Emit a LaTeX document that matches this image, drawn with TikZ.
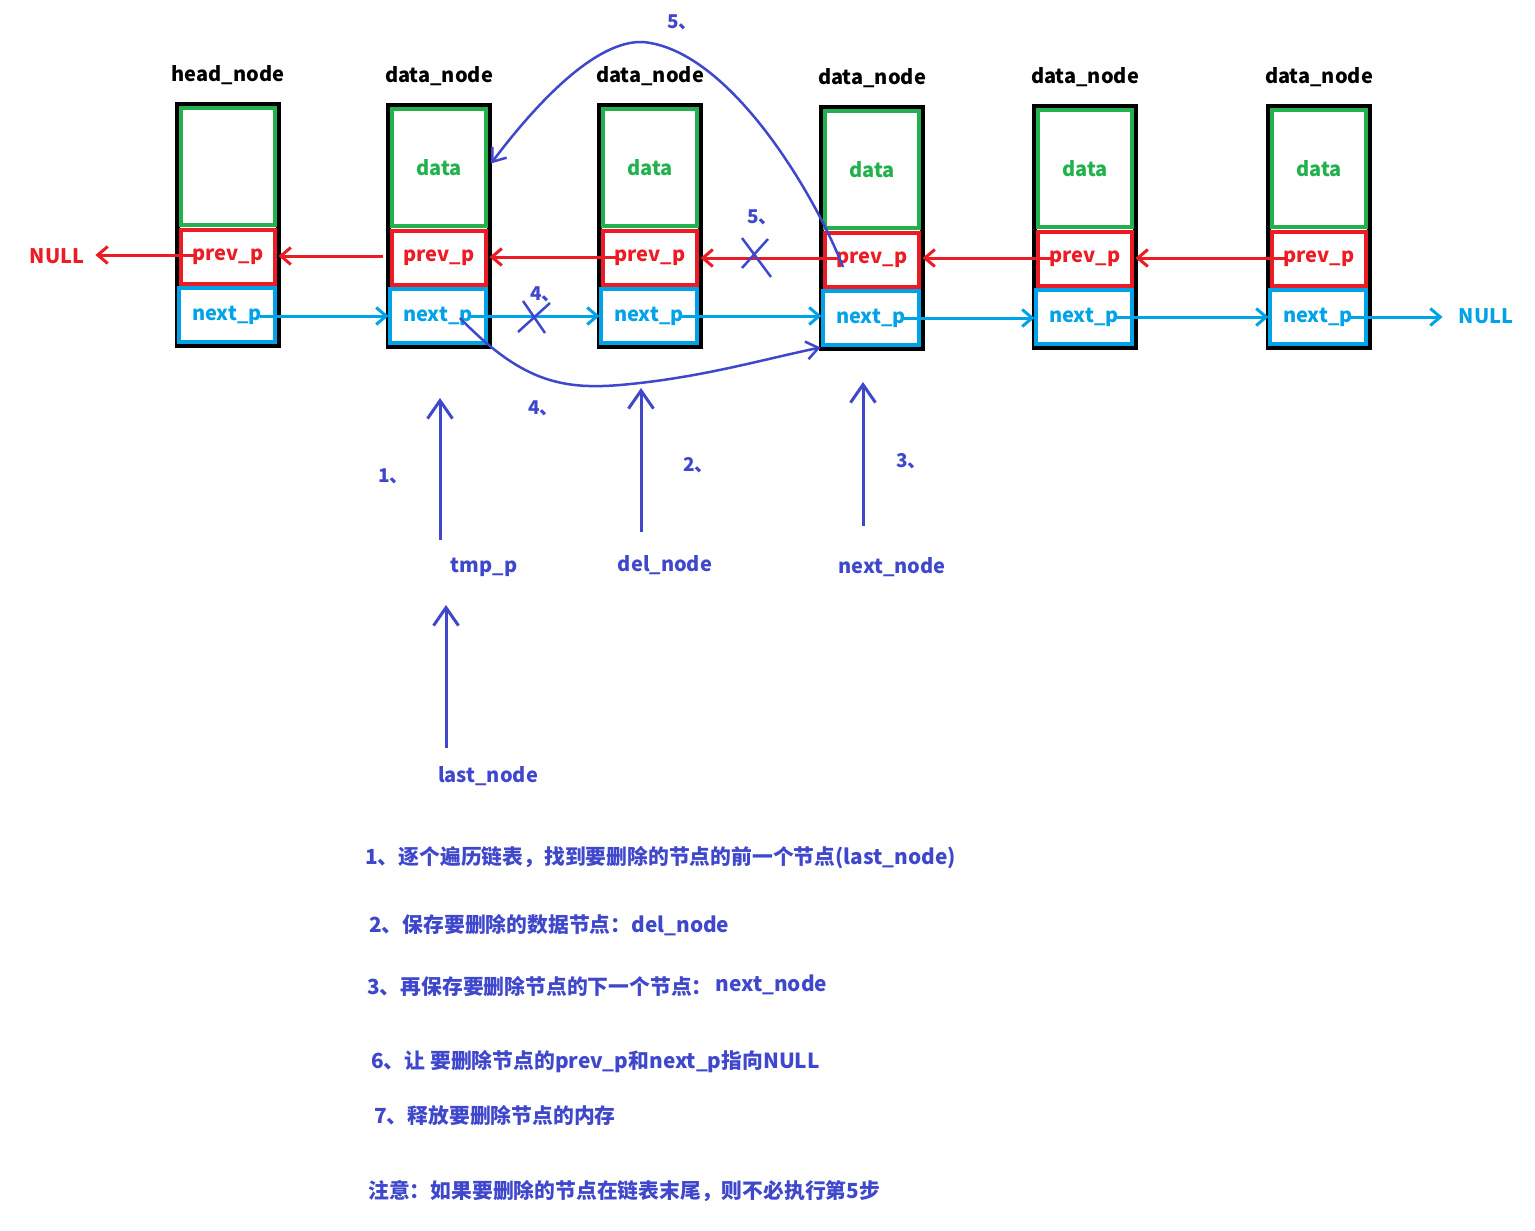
\documentclass[tikz,border=0pt]{standalone}
\usepackage{fontspec}
\setmainfont{Noto Sans CJK SC}
\usetikzlibrary{arrows.meta,calc}
\definecolor{pgreen}{HTML}{22B14C}
\definecolor{pred}{HTML}{ED1C24}
\definecolor{pblue}{HTML}{00A2E8}
\definecolor{pind}{HTML}{3F48CC}
\tikzset{
  outerbox/.style={draw=black, line width=5pt, minimum width=101pt, minimum height=241pt, inner sep=0pt, outer sep=0pt, anchor=north west},
  databox/.style={draw=pgreen, line width=4pt, minimum width=94pt, minimum height=117pt, inner sep=0pt, outer sep=0pt, anchor=north west, text=pgreen, font=\fontsize{20}{24}\selectfont\bfseries},
  prevbox/.style={draw=pred, line width=4pt, minimum width=94pt, minimum height=54pt, inner sep=0pt, outer sep=0pt, anchor=north west, text=pred, font=\fontsize{20}{24}\selectfont\bfseries},
  nextbox/.style={draw=pblue, line width=4pt, minimum width=96pt, minimum height=54pt, inner sep=0pt, outer sep=0pt, anchor=north west, text=pblue, font=\fontsize{20}{24}\selectfont\bfseries},
  titlelbl/.style={text=black, font=\fontsize{20}{24}\selectfont\bfseries, inner sep=0pt},
  redarr/.style={draw=pred, line width=3pt, -{Straight Barb[length=10pt,width=17pt]}},
  bluearr/.style={draw=pblue, line width=3pt, -{Straight Barb[length=10pt,width=17pt]}},
  ptrarr/.style={draw=pind, line width=3pt, -{Straight Barb[length=18pt,width=25pt]}},
  curvearr/.style={draw=pind, line width=2.5pt, -{Straight Barb[length=12pt,width=18pt]}},
  crossln/.style={draw=pind, line width=2.5pt},
  steplbl/.style={text=pind, font=\fontsize{19}{20}\selectfont\bfseries, anchor=west, inner sep=0pt},
  ptrlbl/.style={text=pind, font=\fontsize{20}{24}\selectfont\bfseries, inner sep=0pt},
  nulllbl/.style={font=\fontsize{20}{24}\selectfont\bfseries, inner sep=0pt},
  notetext/.style={text=pind, font=\fontsize{20.8}{24}\selectfont\bfseries, anchor=west, inner sep=0pt},
}
\newcommand\llnode[5]{%
  \node[outerbox] (#1) at (#2+2.5,#3+2.5) {};
  \node[databox] (#1d) at (#2+6,#3+6) {#5};
  \node[prevbox] (#1p) at (#2+6,#3+128) {prev\_p};
  \node[nextbox] (#1n) at (#2+4,#3+186) {next\_p};
  \node[titlelbl] (#1t) at (#2+53,#3-27) {#4};
}
\begin{document}
\begin{tikzpicture}[x=1pt,y=-1pt]
\useasboundingbox[fill=white] (0,0) rectangle (1535,1231);

\llnode{na}{175}{102}{head\_node}{}
\llnode{nb}{386}{103}{data\_node}{data}
\llnode{nc}{597}{103}{data\_node}{data}
\llnode{nd}{819}{105}{data\_node}{data}
\llnode{ne}{1032}{104}{data\_node}{data}
\llnode{nf}{1266}{104}{data\_node}{data}

\node[nulllbl, text=pred] (nullL) at (57,256) {NULL};
\node[nulllbl, text=pblue] (nullR) at (1486,316) {NULL};

% prev pointers (red)
\coordinate (ra) at ($(nap.center)+(-34,-2)$);
\coordinate (rb) at ($(nbp.center)+(-56,-2)$);
\coordinate (rc) at ($(ncp.center)+(-33,-1)$);
\coordinate (rd) at ($(ndp.center)+(-32,-2)$);
\coordinate (re) at ($(nep.center)+(-34,-1)$);
\coordinate (rf) at ($(nfp.center)+(-34,-1)$);
\draw[redarr, shorten >=11pt] (ra) -- (ra -| nullL.east);
\draw[redarr] (rb) -- (rb -| na.east);
\draw[redarr] (rc) -- (rc -| nb.east);
\draw[redarr] (rd) -- (rd -| nc.east);
\draw[redarr] (re) -- (re -| nd.east);
\draw[redarr] (rf) -- (rf -| ne.east);

% next pointers (blue)
\coordinate (ba) at ($(nan.center)+(33,1)$);
\coordinate (bb) at ($(nbn.center)+(33,0)$);
\coordinate (bc) at ($(ncn.center)+(33,0)$);
\coordinate (bd) at ($(ndn.center)+(33,0)$);
\coordinate (be) at ($(nen.center)+(33,0)$);
\coordinate (bf) at ($(nfn.center)+(33,0)$);
\draw[bluearr] (ba) -- (ba -| nb.west);
\draw[bluearr] (bb) -- (bb -| nc.west);
\draw[bluearr] (bc) -- (bc -| nd.west);
\draw[bluearr] (bd) -- (bd -| ne.west);
\draw[bluearr] (be) -- (be -| nf.west);
\draw[bluearr, shorten >=16pt] (bf) -- (bf -| nullR.west);

% crosses
\draw[crossln] (523,301) -- (545,333);
\draw[crossln] (518,332) -- (550,303);
\draw[crossln] (742,238) -- (771,277);
\draw[crossln] (742,268) -- (768,239);

% step 4 curve
\coordinate (c4s) at (460,318);
\coordinate (c4m) at (620,385);
\draw[curvearr] (c4s) .. controls (520,380) and (560,390) .. (c4m)
  .. controls (700,378) and (760,360) .. ($(nd.south west)+(-1,-1)$);
% step 5 curve
\coordinate (c5s) at (843,267);
\coordinate (c5m) at (643,42);
\draw[curvearr] (c5s) .. controls (815,195) and (730,50) .. (c5m)
  .. controls (595,40) and (535,105) .. ($(nbd.east)+(5,-4)$);

% step labels
\node[steplbl] (s4a) at (530,294) {4、};
\node[steplbl] (s5a) at (747,217) {5、};
\node[steplbl] (s4b) at (528,408) {4、};
\node[steplbl] (s5b) at (667,22) {5、};
\node[steplbl] (s1) at (378,476) {1、};
\node[steplbl] (s2) at (683,465) {2、};
\node[steplbl] (s3) at (896,461) {3、};

% pointer variables
\node[ptrlbl] (tmpp) at (484,567) {tmp\_p};
\node[ptrlbl] (deln) at (665,565) {del\_node};
\node[ptrlbl] (nextn) at (892,567) {next\_node};
\node[ptrlbl] (lastn) at (488,776) {last\_node};
\coordinate (p1s) at (440,540);
\coordinate (p2s) at (641,532);
\coordinate (p3s) at (863,526);
\coordinate (p4s) at (446,748);
\draw[ptrarr] (p1s) -- (440,398);
\draw[ptrarr] (p2s) -- (641,388);
\draw[ptrarr] (p3s) -- (863,382);
\draw[ptrarr] (p4s) -- (446,605);

% notes
\node[notetext] (t1) at (365,858) {1、逐个遍历链表，找到要删除的节点的前一个节点(last\_node)};
\node[notetext] (t2) at (369,925) {2、保存要删除的数据节点：del\_node};
\node[notetext] (t3) at (367,986) {3、再保存要删除节点的下一个节点：\hspace{3pt}\raisebox{3pt}{next\_node}};
\node[notetext] (t6) at (371,1062) {6、让 要删除节点的prev\_p和next\_p指向NULL};
\node[notetext] (t7) at (374,1116) {7、释放要删除节点的内存};
\node[notetext] (t8) at (368,1191) {注意：如果要删除的节点在链表末尾，则不必执行第5步};
\end{tikzpicture}
\end{document}
